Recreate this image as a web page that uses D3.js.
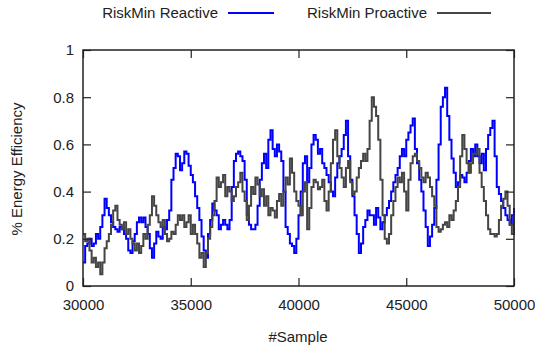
<!DOCTYPE html>
<html><head><meta charset="utf-8">
<script src="https://cdn.jsdelivr.net/npm/d3@7"></script>
<style>body{margin:0;background:#fff}svg{display:block}text{font-family:"Liberation Sans",Arial,sans-serif;fill:#222}</style>
</head><body><svg id="c" width="535" height="351"></svg>
<script>
const xStart = 30000, xStep = 100;
const reactive = [
0.10,0.17,0.18,0.20,0.17,0.18,0.22,0.20,0.25,0.30,0.37,0.33,0.30,0.27,0.25,0.24,0.23,0.25,0.24,0.22,
0.20,0.15,0.14,0.19,0.22,0.27,0.29,0.27,0.29,0.25,0.22,0.16,0.12,0.18,0.23,0.21,0.20,0.25,0.24,0.28,
0.32,0.45,0.50,0.56,0.55,0.49,0.52,0.57,0.56,0.51,0.47,0.44,0.38,0.33,0.28,0.21,0.15,0.12,0.22,0.28,
0.35,0.32,0.30,0.24,0.26,0.28,0.26,0.24,0.28,0.42,0.53,0.56,0.57,0.55,0.53,0.45,0.30,0.26,0.24,0.24,
0.26,0.34,0.45,0.52,0.56,0.50,0.62,0.66,0.58,0.55,0.60,0.57,0.53,0.40,0.25,0.22,0.18,0.17,0.14,0.20,
0.30,0.40,0.52,0.55,0.44,0.50,0.60,0.64,0.62,0.56,0.58,0.52,0.50,0.47,0.44,0.40,0.38,0.46,0.52,0.55,
0.58,0.64,0.70,0.55,0.45,0.38,0.30,0.22,0.14,0.18,0.25,0.28,0.32,0.30,0.30,0.26,0.33,0.29,0.24,0.27,
0.30,0.33,0.36,0.40,0.44,0.47,0.50,0.55,0.58,0.55,0.62,0.65,0.68,0.71,0.58,0.52,0.45,0.40,0.32,0.25,
0.17,0.21,0.26,0.33,0.45,0.60,0.76,0.80,0.84,0.72,0.62,0.54,0.48,0.42,0.44,0.47,0.46,0.44,0.48,0.53,
0.58,0.55,0.60,0.55,0.52,0.56,0.49,0.58,0.64,0.67,0.70,0.55,0.42,0.39,0.36,0.33,0.30,0.28,0.26,0.30,0.33];
const proactive = [
0.22,0.19,0.20,0.15,0.10,0.12,0.08,0.10,0.05,0.10,0.16,0.19,0.22,0.26,0.32,0.34,0.28,0.26,0.24,0.27,
0.22,0.24,0.20,0.18,0.15,0.18,0.14,0.17,0.22,0.20,0.26,0.30,0.38,0.34,0.30,0.27,0.25,0.28,0.22,0.19,
0.20,0.23,0.22,0.26,0.30,0.28,0.30,0.25,0.27,0.30,0.22,0.26,0.22,0.18,0.12,0.14,0.08,0.14,0.20,0.25,
0.30,0.36,0.46,0.42,0.44,0.47,0.38,0.42,0.40,0.36,0.38,0.42,0.44,0.48,0.40,0.36,0.28,0.34,0.42,0.39,
0.46,0.43,0.38,0.41,0.34,0.38,0.30,0.33,0.32,0.29,0.36,0.39,0.34,0.40,0.46,0.43,0.54,0.48,0.40,0.36,
0.34,0.30,0.40,0.44,0.24,0.33,0.42,0.45,0.44,0.41,0.42,0.45,0.36,0.32,0.40,0.52,0.62,0.66,0.55,0.50,
0.46,0.42,0.50,0.53,0.44,0.39,0.40,0.46,0.50,0.53,0.56,0.53,0.58,0.70,0.80,0.76,0.72,0.62,0.45,0.30,
0.20,0.18,0.22,0.30,0.36,0.42,0.46,0.44,0.48,0.40,0.32,0.45,0.52,0.55,0.56,0.53,0.50,0.46,0.44,0.48,
0.46,0.42,0.38,0.34,0.25,0.23,0.24,0.26,0.27,0.25,0.30,0.28,0.32,0.36,0.42,0.55,0.64,0.58,0.52,0.48,
0.52,0.56,0.56,0.58,0.48,0.42,0.36,0.30,0.24,0.22,0.22,0.21,0.22,0.28,0.34,0.37,0.40,0.34,0.26,0.22,0.30];
const xTicks = [30000,35000,40000,45000,50000];
const yTicks = [0,0.2,0.4,0.6,0.8,1];
const seriesNames = ["RiskMin Reactive","RiskMin Proactive"];
const colors = ["#0000ff","#454545"];

const svg = d3.select("#c");
const L=83,R=514,T=50,B=286;
const x = d3.scaleLinear().domain([30000,50000]).range([L,R]);
const y = d3.scaleLinear().domain([0,1]).range([B,T]);
const fs = "15px";

const line = d3.line().x((d,i)=>x(xStart+i*xStep)).y(d=>y(d)).curve(d3.curveStepAfter);
[reactive,proactive].forEach((s,k)=>{
  svg.append("path").datum(s).attr("d",line).attr("fill","none")
    .attr("stroke",colors[k]).attr("stroke-width",2).attr("stroke-linejoin","miter");
});

const g1 = svg.append("g").attr("transform",`translate(0,${B})`).call(d3.axisBottom(x).tickValues(xTicks).tickFormat(d3.format("d")).tickSize(-8).tickPadding(13));
const g2 = svg.append("g").attr("transform",`translate(${L},0)`).call(d3.axisLeft(y).tickValues(yTicks).tickFormat(d=>d===0?"0":d===1?"1":d3.format(".1f")(d)).tickSize(-8).tickPadding(9));
const g3 = svg.append("g").attr("transform",`translate(0,${T})`).call(d3.axisTop(x).tickValues(xTicks).tickFormat("").tickSize(-8));
const g4 = svg.append("g").attr("transform",`translate(${R},0)`).call(d3.axisRight(y).tickValues(yTicks).tickFormat("").tickSize(-8));
[g1,g2,g3,g4].forEach(g=>{g.select(".domain").remove();g.selectAll("line").attr("stroke","#222").attr("stroke-width",1.2);g.selectAll("text").style("font-size",fs).attr("fill","#222").style("font-family","'Liberation Sans',Arial,sans-serif");});
svg.append("rect").attr("x",L).attr("y",T).attr("width",R-L).attr("height",B-T).attr("fill","none").attr("stroke","#222").attr("stroke-width",1.5);

svg.append("text").attr("x",298).attr("y",342).attr("text-anchor","middle").style("font-size",fs).text("#Sample");
svg.append("text").attr("transform","translate(22,169) rotate(-90)").attr("text-anchor","middle").style("font-size",fs).text("% Energy Efficiency");

const leg = [{tx:218,x1:228,x2:274},{tx:427,x1:437,x2:491}];
leg.forEach((l,k)=>{
  svg.append("text").attr("x",l.tx).attr("y",18).attr("text-anchor","end").style("font-size",fs).text(seriesNames[k]);
  svg.append("line").attr("x1",l.x1).attr("x2",l.x2).attr("y1",13).attr("y2",13).attr("stroke",colors[k]).attr("stroke-width",2);
});
</script></body></html>
